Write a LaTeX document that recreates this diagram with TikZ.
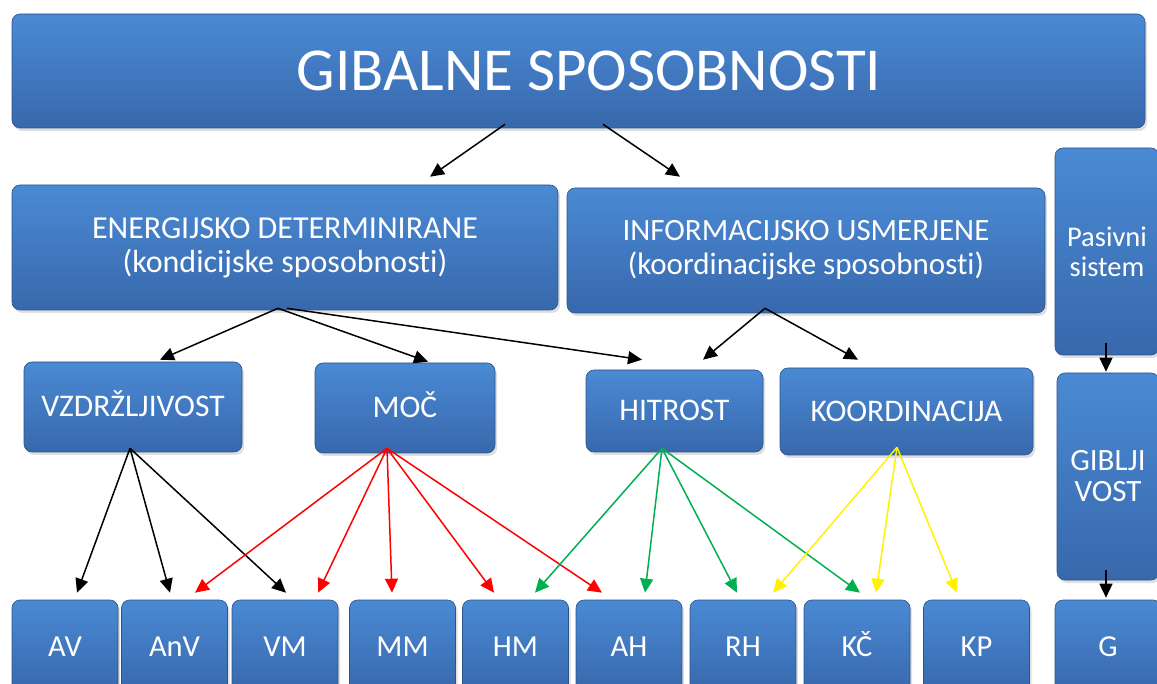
\documentclass[tikz,border=0pt]{standalone}
\usepackage{fontspec}
\setmainfont{Carlito}[Ligatures=NoCommon]
\usetikzlibrary{arrows.meta, shadows}

\begin{document}
\begin{tikzpicture}[x=1pt, y=-1pt, line width=1.5pt]
        \tikzset{box/.style={rounded corners=8pt, top color=blue1, bottom color=blue2,
                draw=blue2!80!black, line width=0.6pt, text=white, align=center,
                inner sep=0pt, drop shadow={shadow xshift=2pt, shadow yshift=-3pt, opacity=0.25}},
            enovrst/.style={box, text height=20pt, text depth=0pt},
            arr/.style={-{Triangle[length=14pt, width=13pt]}}}
        \definecolor{blue1}{RGB}{74,138,212}
        \definecolor{blue2}{RGB}{56,104,172}
        \definecolor{zelena}{RGB}{0,176,80}
        \useasboundingbox (0,0) rectangle (1157,684);

        \node[box, minimum width=1133pt, minimum height=114pt, text height=39pt, text depth=0pt, font=\fontsize{61}{64}\selectfont] (gib) at (578.5,71) {\hspace*{21pt}GIBALNE SPOSOBNOSTI};
        \node[box, minimum width=546pt, minimum height=125pt, font=\fontsize{32}{34}\selectfont] (energ) at (285,247.5) {ENERGIJSKO DETERMINIRANE\\(kondicijske sposobnosti)};
        \node[box, minimum width=478pt, minimum height=125pt, font=\fontsize{31}{34}\selectfont] (inform) at (806,250.5) {INFORMACIJSKO USMERJENE\\(koordinacijske sposobnosti)};
        \node[box, minimum width=104pt, minimum height=207pt, font=\fontsize{28.5}{30}\selectfont] (pas) at (1107,251.5) {Pasivni\\sistem};
        \node[box, minimum width=102pt, minimum height=207pt, font=\fontsize{31}{31}\selectfont] (gibv) at (1108,476.5) {GIBLJI\\VOST};

        \node[enovrst, minimum width=218pt, minimum height=90pt, font=\fontsize{31.5}{34}\selectfont] (vz) at (133,407) {VZDRŽLJIVOST};
        \node[enovrst, minimum width=180pt, minimum height=90pt, font=\fontsize{31.5}{34}\selectfont] (moc) at (405,408) {MOČ};
        \node[enovrst, minimum width=177pt, minimum height=82pt, font=\fontsize{31.5}{34}\selectfont] (hit) at (674.5,411) {HITROST};
        \node[enovrst, minimum width=253pt, minimum height=87pt, font=\fontsize{31.5}{34}\selectfont] (koord) at (906.5,411.5) {KOORDINACIJA};

        % spodnja vrsta
        \foreach \ime/\x/\besedilo in {av/65/AV, anv/174.5/AnV, vm/285/VM, mm/402.5/MM, hm/515.5/HM,
                ah/629/AH, rh/743/RH, kc/857/KČ, kp/976.5/KP, g/1108/G}
            \node[enovrst, minimum width=106pt, minimum height=92pt, font=\fontsize{30.5}{33}\selectfont] (\ime) at (\x,646) {\besedilo};

        \draw[arr] ([xshift=-73.5pt, yshift=4pt]gib.south) -- ([xshift=145pt, yshift=8pt]energ.north);
        \draw[arr] ([xshift=24.5pt, yshift=4pt]gib.south) -- ([xshift=-126pt, yshift=11pt]inform.north);

        \draw[arr] ([xshift=-7pt, yshift=2pt]energ.south) -- ([xshift=27pt, yshift=2pt]vz.north);
        \draw[arr] ([xshift=-7pt, yshift=2pt]energ.south) -- ([xshift=23pt, yshift=1pt]moc.north);
        \draw[arr] ([xshift=2pt, yshift=2pt]energ.south) -- ([xshift=-32.5pt, yshift=10pt]hit.north);
        \draw[arr] ([xshift=-41pt, yshift=5pt]inform.south) -- ([xshift=28.5pt, yshift=10pt]hit.north);
        \draw[arr] ([xshift=-41pt, yshift=5pt]inform.south) -- ([xshift=-48.5pt, yshift=8pt]koord.north);

        \foreach \cilj/\dx in {av/12, anv/-4.5, vm/1}
            \draw[arr] ([xshift=-3pt, yshift=4pt]vz.south) -- ([xshift=\dx pt, yshift=7pt]\cilj.north);
        \foreach \cilj/\dx in {anv/20.5, vm/33, mm/-10.5, hm/-21.5, ah/-27}
            \draw[arr, red] ([xshift=-18pt, yshift=5pt]moc.south) -- ([xshift=\dx pt, yshift=7pt]\cilj.north);
        \foreach \cilj/\dx in {hm/19.5, ah/16, rh/-6, kc/3}
            \draw[arr, zelena] ([xshift=-12.5pt, yshift=4pt]hit.south) -- ([xshift=\dx pt, yshift=7pt]\cilj.north);
        \foreach \cilj/\dx in {rh/30, kc/19, kp/-19.5}
            \draw[arr, yellow] ([xshift=-9.5pt, yshift=8pt]koord.south) -- ([xshift=\dx pt, yshift=7pt]\cilj.north);

        \draw[arr] ([xshift=-1pt, yshift=12pt]pas.south) -- ([xshift=-2pt, yshift=1pt]gibv.north);
        \draw[arr] ([xshift=-2pt, yshift=10pt]gibv.south) -- ([xshift=-2pt, yshift=2pt]g.north);
    \end{tikzpicture}
\end{document}
